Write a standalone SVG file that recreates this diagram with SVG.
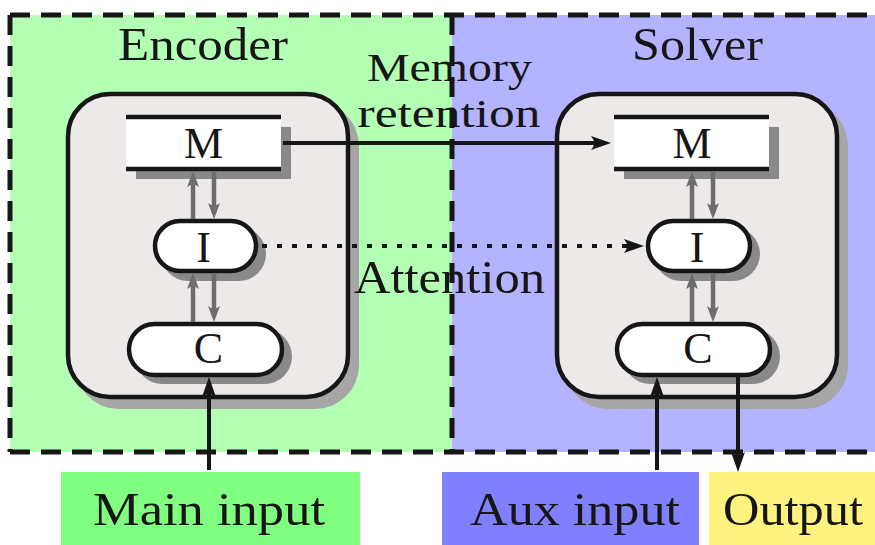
<svg xmlns="http://www.w3.org/2000/svg" width="875" height="545" viewBox="0 0 875 545">
<defs>
<style>
text{font-family:"Liberation Serif","Times New Roman",serif;fill:#161616;text-anchor:middle}
.big{font-size:47px}
.mid{font-size:40px}
.node{font-size:44px}
.dash{stroke:#161616;stroke-width:5;stroke-dasharray:20 11;fill:none}
.block{fill:#ece9e8;stroke:#161616;stroke-width:4.5}
.bshadow{fill:#a6a6a6}
.nshadow{fill:#898989}
.pill{fill:#fff;stroke:#161616;stroke-width:4.5}
.bar{stroke:#161616;stroke-width:4.5}
.gray{stroke:#6d6d6d;stroke-width:4.5;fill:none;marker-end:url(#hg)}
.blk{stroke:#161616;stroke-width:4;fill:none;marker-end:url(#hb)}
.dot{stroke-dasharray:5 10}
</style>
<marker id="hb" viewBox="-21 -8 23 16" refX="-8" refY="0" markerWidth="23" markerHeight="16" markerUnits="userSpaceOnUse" orient="auto">
<path d="M0,0 L-20,-7 Q-14,0 -20,7 Z" fill="#161616"/>
</marker>
<marker id="hg" viewBox="-17 -7 18 14" refX="-6" refY="0" markerWidth="18" markerHeight="14" markerUnits="userSpaceOnUse" orient="auto">
<path d="M0,0 L-16,-6 Q-11,0 -16,6 Z" fill="#6d6d6d"/>
</marker>
</defs>

<g id="regions">
<rect x="10" y="15" width="442" height="437" fill="#b3ffb3"/>
<rect x="452" y="15" width="423" height="437" fill="#b3b3ff"/>
<line class="dash" x1="10" y1="15" x2="875" y2="15"/>
<line class="dash" x1="10" y1="452" x2="875" y2="452"/>
<line class="dash" x1="10" y1="15" x2="10" y2="452"/>
<line class="dash" x1="452" y1="15" x2="452" y2="452"/>
<text class="big" x="203" y="60" textLength="170" lengthAdjust="spacingAndGlyphs">Encoder</text>
<text class="big" x="697.5" y="60" textLength="131" lengthAdjust="spacingAndGlyphs">Solver</text>
</g>

<g id="encoder">
<rect class="bshadow" x="75" y="102" width="284" height="307" rx="44"/>
<rect class="block" x="68" y="94" width="280" height="303" rx="42"/>
</g>
<g id="solver">
<rect class="bshadow" x="564" y="102" width="284" height="307" rx="44"/>
<rect class="block" x="557" y="94" width="280" height="303" rx="42"/>
</g>

<g id="enc-M">
<rect class="nshadow" x="136" y="127" width="155" height="52"/>
<rect x="126" y="117" width="155" height="52" fill="#fff"/>
<line class="bar" x1="126" y1="117" x2="281" y2="117"/>
<line class="bar" x1="126" y1="169" x2="281" y2="169"/>
<text class="node" x="203.5" y="158">M</text>
</g>
<g id="enc-I">
<rect class="nshadow" x="161" y="227" width="105" height="54" rx="27"/>
<rect class="pill" x="155" y="221" width="101" height="50" rx="25"/>
<text class="node" x="203.5" y="262">I</text>
</g>
<g id="enc-C">
<rect class="nshadow" x="135" y="329" width="157" height="55" rx="27.5"/>
<rect class="pill" x="129" y="324" width="153" height="51" rx="25.5"/>
<text class="node" x="208.5" y="363">C</text>
</g>

<g id="sol-M">
<rect class="nshadow" x="624" y="127" width="155" height="52"/>
<rect x="614" y="117" width="155" height="52" fill="#fff"/>
<line class="bar" x1="614" y1="117" x2="769" y2="117"/>
<line class="bar" x1="614" y1="169" x2="769" y2="169"/>
<text class="node" x="692" y="158">M</text>
</g>
<g id="sol-I">
<rect class="nshadow" x="654" y="227" width="106" height="54" rx="27"/>
<rect class="pill" x="648" y="221" width="102" height="50" rx="25"/>
<text class="node" x="697" y="262">I</text>
</g>
<g id="sol-C">
<rect class="nshadow" x="623" y="329" width="157" height="55" rx="27.5"/>
<rect class="pill" x="617" y="324" width="153" height="51" rx="25.5"/>
<text class="node" x="698" y="363">C</text>
</g>

<g id="main-input">
<rect x="61" y="472" width="299" height="73" fill="#80ff80"/>
<text class="big" x="209" y="525" textLength="232" lengthAdjust="spacingAndGlyphs">Main input</text>
</g>
<g id="aux-input">
<rect x="442" y="472" width="257" height="73" fill="#8080ff"/>
<text class="big" x="575" y="525" textLength="210" lengthAdjust="spacingAndGlyphs">Aux input</text>
</g>
<g id="output">
<rect x="709" y="472" width="166" height="73" fill="#fff380"/>
<text class="big" x="793" y="525" textLength="140" lengthAdjust="spacingAndGlyphs">Output</text>
</g>

<g id="connectors">
<line class="gray" x1="193" y1="219" x2="193" y2="177"/>
<line class="gray" x1="214" y1="171" x2="214" y2="213"/>
<line class="gray" x1="193" y1="322" x2="193" y2="279"/>
<line class="gray" x1="214" y1="273" x2="214" y2="316"/>
<line class="gray" x1="692" y1="219" x2="692" y2="177"/>
<line class="gray" x1="713" y1="171" x2="713" y2="213"/>
<line class="gray" x1="692" y1="322" x2="692" y2="279"/>
<line class="gray" x1="713" y1="273" x2="713" y2="316"/>
<line class="blk" x1="283" y1="143" x2="603" y2="143"/>
<line class="blk dot" x1="262" y1="246" x2="636" y2="246"/>
<line class="blk" x1="209" y1="470" x2="209" y2="385"/>
<line class="blk" x1="657" y1="470" x2="657" y2="385"/>
<line class="blk" x1="738" y1="377" x2="738" y2="464"/>
<text class="mid" x="449.5" y="81" textLength="165" lengthAdjust="spacingAndGlyphs">Memory</text>
<text class="mid" x="449" y="127" textLength="183" lengthAdjust="spacingAndGlyphs">retention</text>
<text class="big" x="449.5" y="293" textLength="191" lengthAdjust="spacingAndGlyphs">Attention</text>
</g>
</svg>
